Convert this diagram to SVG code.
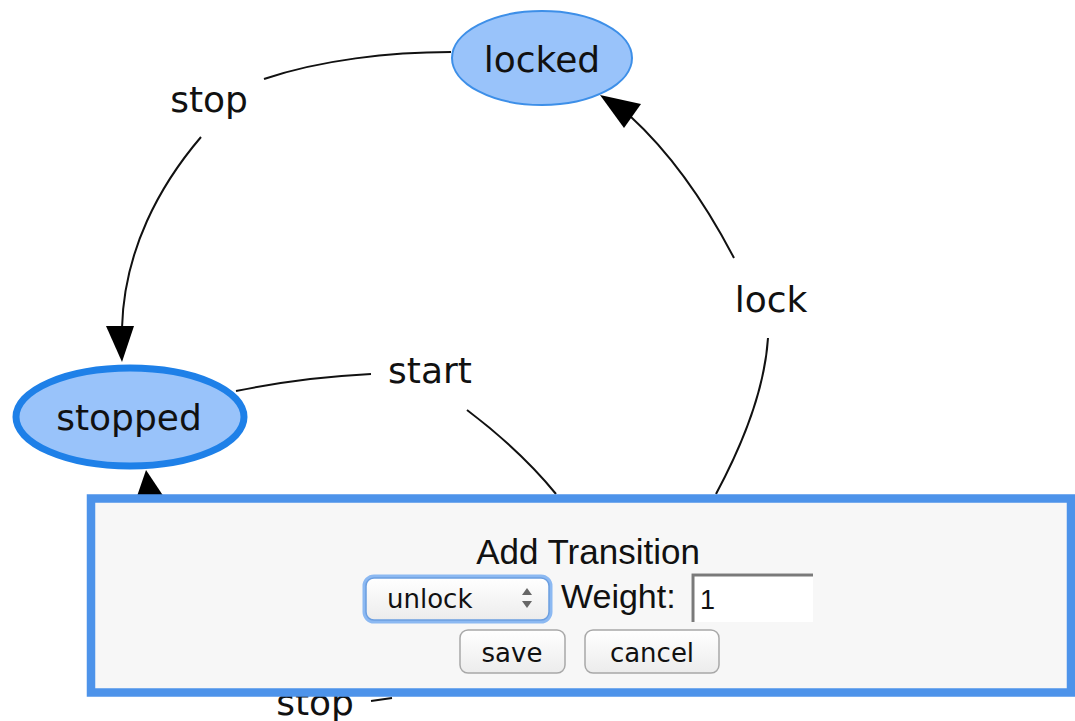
<svg xmlns="http://www.w3.org/2000/svg" width="1075" height="721" viewBox="0 0 1075 721">
  <defs>
    <style>
      .node { fill: #99c3fa; }
      .lbl { font-family: "DejaVu Sans", Verdana, sans-serif; font-size: 36px; fill: #111; text-anchor: middle; }
      .edge { fill: none; stroke: #111; stroke-width: 2; }
      .arrow { fill: #000; }
      .ui { font-family: "Liberation Sans", Arial, sans-serif; fill: #111; }
      .btn { fill: url(#btnGrad); stroke: #a8a8a8; stroke-width: 1.5; }
      .btntxt { font-family: "DejaVu Sans", "Lucida Grande", sans-serif; font-size: 26px; fill: #111; }
    </style>
    <linearGradient id="btnGrad" x1="0" y1="0" x2="0" y2="1">
      <stop offset="0" stop-color="#ffffff"/>
      <stop offset="1" stop-color="#ececec"/>
    </linearGradient>
  </defs>

  <rect width="1075" height="721" fill="#ffffff"/>

  <g id="connectors">
    <path class="edge" d="M451,52 C390,52 320,60 264,79"/>
    <path class="edge" d="M201,137 C160,185 124,250 122,328"/>
    <polygon class="arrow" points="106,326 134,326 122,362"/>
    <path class="edge" d="M236,391 C280,382 330,376 371,374"/>
    <path class="edge" d="M467,410 C500,435 530,462 556,494"/>
    <path class="edge" d="M716,494 C745,440 765,385 768,338"/>
    <path class="edge" d="M734,258 C710,212 678,160 630,116"/>
    <polygon class="arrow" points="600,95 641,104 624,128"/>
    <polygon class="arrow" points="146,470 134,505 166,500"/>
    <path class="edge" d="M371,701 L392,698"/>
  </g>

  <g id="edge-labels">
    <text class="lbl" x="209" y="112">stop</text>
    <text class="lbl" x="430" y="383">start</text>
    <text class="lbl" x="771" y="312">lock</text>
    <text class="lbl" x="315" y="715">stop</text>
  </g>

  <g id="node-locked">
    <ellipse class="node" cx="542" cy="58" rx="90" ry="47" stroke="#3d8fe8" stroke-width="2"/>
    <text class="lbl" x="542" y="72">locked</text>
  </g>

  <g id="node-stopped">
    <ellipse class="node" cx="130" cy="417" rx="114" ry="49" stroke="#1e80e8" stroke-width="7"/>
    <text class="lbl" x="129" y="430">stopped</text>
  </g>

  <g id="dialog">
    <rect x="91" y="498.5" width="980" height="194" fill="#f7f7f7" stroke="#4d93ea" stroke-width="8.5"/>
    <text class="ui" x="588" y="564" font-size="35" text-anchor="middle">Add Transition</text>
    <rect x="365" y="577" width="185" height="44" rx="9" fill="none" stroke="#8cb9f2" stroke-width="5"/>
    <rect x="366" y="578" width="183" height="42" rx="8" fill="url(#btnGrad)" stroke="#6b9ee0" stroke-width="1.5"/>
    <text class="btntxt" x="387" y="608">unlock</text>
    <polygon points="522,595 532,595 527,588" fill="#666"/>
    <polygon points="522,601 532,601 527,608" fill="#666"/>
    <text class="ui" x="561" y="608" font-size="34">Weight:</text>
    <rect x="691" y="573" width="122" height="49" fill="#ffffff"/>
    <path d="M693,622 L693,575 L813,575" fill="none" stroke="#7a7a7a" stroke-width="3"/>
    <text class="ui" x="700" y="609" font-size="27">1</text>
    <rect class="btn" x="460" y="630" width="105" height="43" rx="8"/>
    <text class="btntxt" x="512" y="662" text-anchor="middle">save</text>
    <rect class="btn" x="585" y="630" width="134" height="43" rx="8"/>
    <text class="btntxt" x="652" y="662" text-anchor="middle">cancel</text>
  </g>
</svg>
